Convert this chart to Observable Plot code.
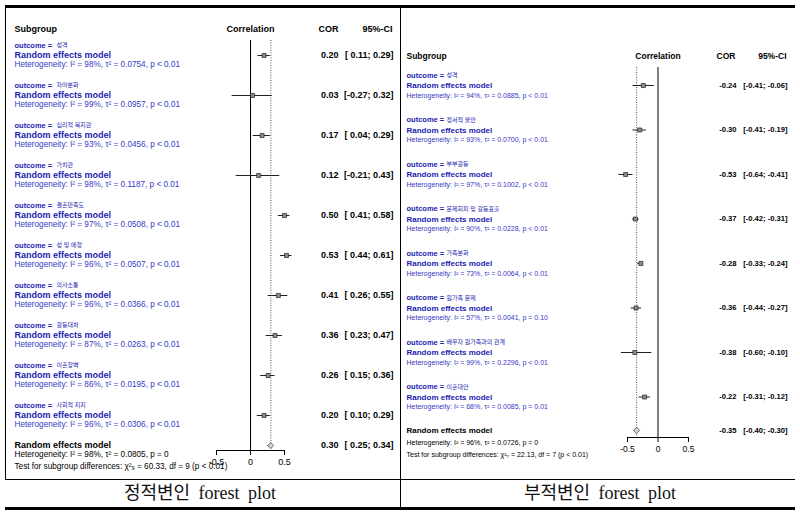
<!DOCTYPE html>
<html><head><meta charset="utf-8">
<script src="https://cdn.jsdelivr.net/npm/d3@7"></script>
<script src="https://cdn.jsdelivr.net/npm/@observablehq/plot@0.6"></script>
<style>
body{margin:0;background:#fff}
#wrap{position:relative;width:800px;height:513px;background:#fff;overflow:hidden}
.panel{position:absolute;top:0}
.ln{position:absolute;background:#000}
.cap{position:absolute;top:481px;width:400px;text-align:center;font-family:"Liberation Serif","Noto Sans CJK KR",serif;font-size:18px;line-height:24px;color:#111;word-spacing:4px}
</style></head><body><div id="wrap"></div>
<script>
// ---- positive variables (정적변인) ----
const posLabels = ["성격","자아분화","심리적 복지감","가치관","결혼만족도","성 및 애정","의사소통","갈등대처","이혼장벽","사회적 지지"];
const posCor = [0.20,0.03,0.17,0.12,0.50,0.53,0.41,0.36,0.26,0.20];
const posLo  = [0.11,-0.27,0.04,-0.21,0.41,0.44,0.26,0.23,0.15,0.10];
const posHi  = [0.29,0.32,0.29,0.43,0.58,0.61,0.55,0.47,0.36,0.29];
const posI2  = [98,99,93,98,97,96,96,87,86,96];
const posTau2 = ["0.0754","0.0957","0.0456","0.1187","0.0508","0.0507","0.0366","0.0263","0.0195","0.0306"];
const posP = ["< 0.01","< 0.01","< 0.01","< 0.01","< 0.01","< 0.01","< 0.01","< 0.01","< 0.01","< 0.01"];
const posOverall = {cor:0.30, lo:0.25, hi:0.34, i2:98, tau2:"0.0805", p:"= 0", chi:"60.33", df:9, pt:"< 0.01"};

// ---- negative variables (부적변인) ----
const negLabels = ["성격","정서적 불안","부부갈등","문제회피 및 갈등표출","가족분화","원가족 문제","배우자 원가족과의 관계","이혼대안"];
const negCor = [-0.24,-0.30,-0.53,-0.37,-0.28,-0.36,-0.38,-0.22];
const negLo  = [-0.41,-0.41,-0.64,-0.42,-0.33,-0.44,-0.60,-0.31];
const negHi  = [-0.06,-0.19,-0.41,-0.31,-0.24,-0.27,-0.10,-0.12];
const negI2  = [94,93,97,90,73,57,99,68];
const negTau2 = ["0.0885","0.0700","0.1002","0.0228","0.0064","0.0041","0.2296","0.0085"];
const negP = ["< 0.01","< 0.01","< 0.01","< 0.01","< 0.01","= 0.10","< 0.01","= 0.01"];
const negOverall = {cor:-0.35, lo:-0.40, hi:-0.30, i2:96, tau2:"0.0726", p:"= 0", chi:"22.13", df:7, pt:"< 0.01"};

const tickValues = [-0.5, 0, 0.5];
const headers = ["Subgroup","Correlation","COR","95%-CI"];
const captions = ["정적변인  forest plot","부적변인  forest plot"];

const subDigits = "₀₁₂₃₄₅₆₇₈₉";
const fmt = v => v.toFixed(2);
const ciText = (lo, hi) => `[${lo >= 0 ? " " : ""}${fmt(lo)}; ${fmt(hi)}]`;
const FONT = "'Liberation Sans', Arial, 'Noto Sans CJK KR', sans-serif";

function forest(o) {
  const rows = o.labels.map((label, i) => ({label, cor:o.cor[i], lo:o.lo[i], hi:o.hi[i], i2:o.i2[i], tau2:o.tau2[i], p:o.p[i], idx:i}));
  const n = rows.length;
  const ov = {...o.overall, idx: n - 1 + 0.75};
  const dh = 0.075;
  const diamond = [
    {x:ov.lo, y:ov.idx}, {x:ov.cor, y:ov.idx - dh}, {x:ov.hi, y:ov.idx}, {x:ov.cor, y:ov.idx + dh}, {x:ov.lo, y:ov.idx}
  ];
  const L = o.L, F = L.fs;
  const blue = "#1d1db0", blue2 = "#3838c6";
  const tx = {fontFamily: FONT};
  return Plot.plot({
    width: 400, height: 478,
    marginLeft: L.ml, marginRight: L.mr, marginTop: L.mt, marginBottom: L.mb,
    x: {domain: [-0.5, 0.5], label: null},
    y: {domain: [0, n - 1], range: L.yr, axis: null, label: null},
    style: {fontFamily: FONT, fontSize: F.tick + "px", background: "white", color: "#000", overflow: "visible"},
    marks: [
      Plot.frame({anchor: "bottom", stroke: "#000", strokeOpacity: 1}),
      Plot.axisX({ticks: tickValues, tickSize: 5, tickPadding: 3, tickFormat: d => String(d), fontSize: F.tick, stroke: "#000"}),
      Plot.ruleX([0], {stroke: "#000", strokeWidth: 1}),
      Plot.ruleX([ov.cor], {stroke: "#555", strokeDasharray: "1,1.5"}),
      Plot.ruleY(rows, {y: "idx", x1: "lo", x2: "hi", stroke: "#222", strokeWidth: 1}),
      Plot.dot(rows, {x: "cor", y: "idx", symbol: "square", r: 2.3, fill: "#8a8a8a", stroke: "#111", strokeWidth: 0.6}),
      Plot.line(diamond, {x: "x", y: "y", fill: "#cfcfcf", stroke: "#444", strokeWidth: 0.7, curve: "linear"}),
      // headers
      Plot.text([headers[0]], {...tx, text: d => d, frameAnchor: "top-left", textAnchor: "start", dx: L.dxSub, dy: -15, fontWeight: "bold", fontSize: F.head}),
      Plot.text([headers[1]], {...tx, text: d => d, frameAnchor: "top", textAnchor: "middle", dy: -15, fontWeight: "bold", fontSize: F.head}),
      Plot.text([headers[2]], {...tx, text: d => d, frameAnchor: "top-right", textAnchor: "end", dx: L.dxCorH, dy: -15, fontWeight: "bold", fontSize: F.head}),
      Plot.text([headers[3]], {...tx, text: d => d, frameAnchor: "top-right", textAnchor: "end", dx: L.dxCiH, dy: -15, fontWeight: "bold", fontSize: F.head}),
      // subgroup rows
      Plot.text(rows, {...tx, y: "idx", text: () => "outcome =", frameAnchor: "left", textAnchor: "start", dx: L.dxSub, dy: L.dyOut, fill: blue, fontWeight: "bold", fontSize: F.out}),
      Plot.text(rows, {...tx, y: "idx", text: "label", frameAnchor: "left", textAnchor: "start", dx: L.dxKor, dy: L.dyOut, fill: blue, fontSize: F.kor}),
      Plot.text(rows, {...tx, y: "idx", text: () => "Random effects model", frameAnchor: "left", textAnchor: "start", dx: L.dxSub, fill: blue, fontWeight: "bold", fontSize: F.rem}),
      Plot.text(rows, {...tx, y: "idx", text: d => `Heterogeneity: I² = ${d.i2}%, τ² = ${d.tau2}, p ${d.p}`, frameAnchor: "left", textAnchor: "start", dx: L.dxSub, dy: L.dyHet, fill: blue2, fontSize: F.het}),
      Plot.text(rows, {...tx, y: "idx", text: d => fmt(d.cor), frameAnchor: "right", textAnchor: "end", dx: L.dxCor, fontWeight: "bold", fontSize: F.val, fill: "#000"}),
      Plot.text(rows, {...tx, y: "idx", text: d => ciText(d.lo, d.hi), frameAnchor: "right", textAnchor: "end", dx: L.dxCi, fontWeight: "bold", fontSize: F.val, fill: "#000", style: "white-space:pre"}),
      // overall
      Plot.text([ov], {...tx, y: "idx", text: () => "Random effects model", frameAnchor: "left", textAnchor: "start", dx: L.dxSub, fill: "#000", fontWeight: "bold", fontSize: F.rem}),
      Plot.text([ov], {...tx, y: "idx", text: d => `Heterogeneity: I² = ${d.i2}%, τ² = ${d.tau2}, p ${d.p}`, frameAnchor: "left", textAnchor: "start", dx: L.dxSub, dy: L.dyOvHet, fill: "#000", fontSize: F.het}),
      Plot.text([ov], {...tx, y: "idx", text: d => `Test for subgroup differences: χ²${subDigits[d.df]} = ${d.chi}, df = ${d.df} (p ${d.pt})`, frameAnchor: "left", textAnchor: "start", dx: L.dxSub, dy: L.dyOvTest, fill: "#000", fontSize: F.het}),
      Plot.text([ov], {...tx, y: "idx", text: d => fmt(d.cor), frameAnchor: "right", textAnchor: "end", dx: L.dxCor, fontWeight: "bold", fontSize: F.val, fill: "#000"}),
      Plot.text([ov], {...tx, y: "idx", text: d => ciText(d.lo, d.hi), frameAnchor: "right", textAnchor: "end", dx: L.dxCi, fontWeight: "bold", fontSize: F.val, fill: "#000"})
    ]
  });
}

const leftPlot = forest({
  labels: posLabels, cor: posCor, lo: posLo, hi: posHi, i2: posI2, tau2: posTau2, p: posP, overall: posOverall,
  L: {ml: 216, mr: 116, mt: 40, mb: 28, yr: [55, 415],
      dxSub: -202, dxKor: -160, dxCor: 54, dxCi: 109, dxCorH: 54, dxCiH: 108,
      dyOut: -10, dyHet: 9, dyOvHet: 9, dyOvTest: 21,
      fs: {head: 9, out: 7.5, kor: 6, rem: 9, het: 8.2, val: 9, tick: 9}}
});
const rightPlot = forest({
  labels: negLabels, cor: negCor, lo: negLo, hi: negHi, i2: negI2, tau2: negTau2, p: negP, overall: negOverall,
  L: {ml: 227, mr: 112, mt: 67, mb: 41, yr: [85, 396.5],
      dxSub: -221, dxKor: -181, dxCor: 48, dxCi: 99, dxCorH: 47, dxCiH: 98,
      dyOut: -10, dyHet: 10, dyOvHet: 12, dyOvTest: 24,
      fs: {head: 8.5, out: 7.5, kor: 6, rem: 8, het: 7, val: 7.6, tick: 8.5}}
});

const wrap = document.getElementById("wrap");
leftPlot.classList.add("panel"); leftPlot.style.left = "0px";
rightPlot.classList.add("panel"); rightPlot.style.left = "400px";
wrap.appendChild(leftPlot);
wrap.appendChild(rightPlot);

function ln(l, t, w, h) {
  const d = document.createElement("div");
  d.className = "ln";
  Object.assign(d.style, {left: l + "px", top: t + "px", width: w + "px", height: h + "px"});
  wrap.appendChild(d);
}
ln(5, 5, 790, 3);     // top border
ln(5, 5, 1, 474);     // left border
ln(400, 5, 1, 505);   // divider
ln(5, 479, 790, 1);   // caption rule
ln(5, 507, 790, 3);   // bottom border

captions.forEach((c, i) => {
  const d = document.createElement("div");
  d.className = "cap";
  d.style.left = (i * 400) + "px";
  d.textContent = c;
  wrap.appendChild(d);
});
</script></body></html>
